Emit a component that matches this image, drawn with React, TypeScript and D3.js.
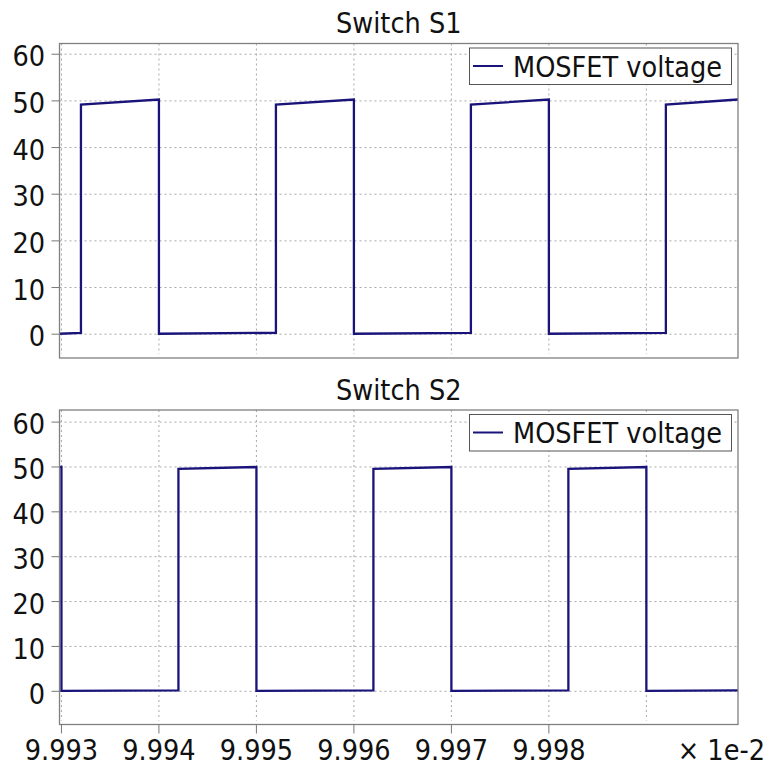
import React from "react";
import * as d3 from "d3";

// time axis values are shown in units of 1e-2 s
const s1Time = [9.99298, 9.9932, 9.9932, 9.994, 9.994, 9.9952, 9.9952, 9.996, 9.996, 9.9972, 9.9972, 9.998, 9.998, 9.9992, 9.9992, 9.99994];
const s1Volt = [0.1, 0.3, 49.2, 50.3, 0.1, 0.3, 49.2, 50.3, 0.1, 0.3, 49.2, 50.3, 0.1, 0.3, 49.2, 50.3];

const s2Time = [9.99298, 9.993, 9.993, 9.9942, 9.9942, 9.995, 9.995, 9.9962, 9.9962, 9.997, 9.997, 9.9982, 9.9982, 9.999, 9.999, 9.99994];
const s2Volt = [50.0, 50.0, 0.1, 0.2, 49.6, 50.0, 0.1, 0.2, 49.6, 50.0, 0.1, 0.2, 49.6, 50.0, 0.1, 0.2];

const xGrid = [9.993, 9.994, 9.995, 9.996, 9.997, 9.998, 9.999];
const xLabels = ["9.993", "9.994", "9.995", "9.996", "9.997", "9.998"];
const yTicks = [0, 10, 20, 30, 40, 50, 60];
const titles = ["Switch S1", "Switch S2"];
const seriesName = "MOSFET voltage";

const FONT = "'DejaVu Sans Condensed', 'Liberation Sans', sans-serif";
const LINE = "#19137a";

const left = 59.5, right = 738;
const x = d3.scaleLinear().domain([9.99298, 9.99994]).range([left, right]);

type Panel = { title: string; t: number[]; v: number[]; top: number; bottom: number; ymin: number; ymax: number };

const panels: Panel[] = [
  { title: titles[0], t: s1Time, v: s1Volt, top: 43.5, bottom: 358, ymin: -5.1, ymax: 62.3 },
  { title: titles[1], t: s2Time, v: s2Volt, top: 410, bottom: 724.5, ymin: -7.4, ymax: 62.7 },
];

function PanelView({ p, last }: { p: Panel; last: boolean }) {
  const y = d3.scaleLinear().domain([p.ymin, p.ymax]).range([p.bottom, p.top]);
  const pts = p.t.map((t, i) => [t, p.v[i]] as [number, number]);
  const line = d3.line<[number, number]>().x((d) => x(d[0])).y((d) => y(d[1]));
  const cx = (left + right) / 2;
  return (
    <g>
      <text x={cx} y={p.top - 10.5} textAnchor="middle" fontSize={28.5} fill="#111">{p.title}</text>
      {/* grid */}
      {yTicks.map((v) => (
        <line key={"gy" + v} x1={left} x2={right} y1={y(v)} y2={y(v)} stroke="#a8a8a8" strokeDasharray="2,3" />
      ))}
      {xGrid.map((v) => (
        <line key={"gx" + v} x1={x(v)} x2={x(v)} y1={p.top} y2={p.bottom - 4} stroke="#a8a8a8" strokeDasharray="2,3" />
      ))}
      {/* y ticks */}
      {yTicks.map((v) => (
        <g key={"ty" + v}>
          <line x1={left - 8} x2={left} y1={y(v)} y2={y(v)} stroke="#777" />
          <text x={45} y={y(v)} dy="0.43em" textAnchor="end" fontSize={28.5} fill="#111">{v}</text>
        </g>
      ))}
      <path d={line(pts) || ""} fill="none" stroke={LINE} strokeWidth={2.3} />
      {/* frame */}
      <rect x={left} y={p.top} width={right - left} height={p.bottom - p.top} fill="none" stroke="#808080" strokeWidth={1.3} />
      {/* legend */}
      <rect x={469.5} y={p.top + 4.5} width={262} height={36.5} fill="#fff" stroke="#555" />
      <line x1={473} x2={503} y1={p.top + 22.5} y2={p.top + 22.5} stroke={LINE} strokeWidth={2} />
      <text x={513} y={p.top + 33} fontSize={28.5} fill="#111">{seriesName}</text>
      {last && (
        <g>
          {xLabels.map((s, i) => (
            <g key={s}>
              <line x1={x(xGrid[i])} x2={x(xGrid[i])} y1={p.bottom} y2={p.bottom + 9} stroke="#777" />
              <text x={x(xGrid[i])} y={759.5} textAnchor="middle" fontSize={28.5} fill="#111">{s}</text>
            </g>
          ))}
          <text x={765} y={759.5} textAnchor="end" fontSize={28.5} fill="#111">× 1e-2</text>
        </g>
      )}
    </g>
  );
}

export default function App() {
  return (
    <svg
      width={771}
      height={767}
      style={{ position: "absolute", left: 0, top: 0, background: "#fff" }}
      fontFamily={FONT}
    >
      <rect width={771} height={767} fill="#fff" />
      {panels.map((p, i) => (
        <PanelView key={p.title} p={p} last={i === panels.length - 1} />
      ))}
    </svg>
  );
}
